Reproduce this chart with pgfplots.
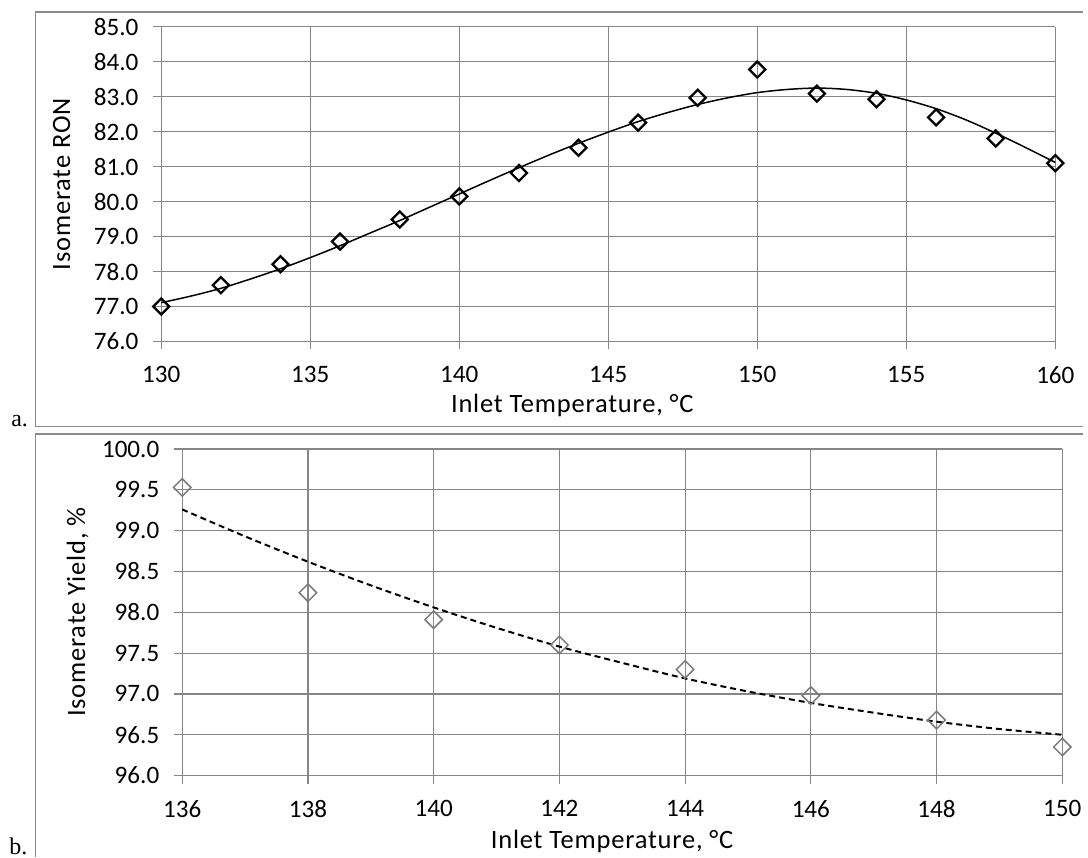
\documentclass[border=0pt]{standalone}
\usepackage{fontspec}
\setmainfont{Carlito}
\newfontfamily\seriffont{Liberation Serif}
\newfontfamily\labelfont[LetterSpace=3]{Carlito}
\usepackage{pgfplots}
\pgfplotsset{compat=1.18}
\definecolor{gridgray}{HTML}{868686}
\definecolor{boxgray}{HTML}{8A8A8A}
\definecolor{markgray}{HTML}{7A7A7A}
\pgfplotsset{excel/.style={
  scale only axis,
  axis line style={draw=none},
  grid=major,
  grid style={gridgray, line width=0.6pt},
  tick align=outside,
  tick pos=left,
  major tick length=4pt,
  tick style={gridgray, line width=0.6pt},
  ticklabel style={font=\fontsize{12.6}{15}\selectfont},
  label style={font=\labelfont\fontsize{13.3}{16}\selectfont},
  /pgf/number format/assume math mode=true,
  xticklabel style={yshift=-5pt},
  yticklabel style={xshift=-4pt},
  clip=false,
}}
\begin{document}
\begin{tikzpicture}
\fill[white] (0pt,0pt) rectangle (544pt,-430.5pt);
\draw[boxgray, line width=0.6pt] (544pt,-6pt) -- (18pt,-6pt) -- (18pt,-214pt) -- (544pt,-214pt);
\draw[boxgray, line width=0.6pt] (18pt,-430.5pt) -- (18pt,-218pt) -- (544pt,-218pt);
\node[font=\seriffont\fontsize{12}{14}\selectfont, anchor=base west, inner sep=0pt] at (5.5pt,-214pt) {a.};
\node[font=\seriffont\fontsize{12}{14}\selectfont, anchor=base west, inner sep=0pt] at (4.5pt,-429pt) {b.};

\begin{axis}[excel,
  at={(81pt,-171.5pt)}, anchor=south west,
  width=449pt, height=158pt,
  xmin=130, xmax=160, ymin=76, ymax=85,
  xtick={130,135,...,160},
  ytick={76,77,...,85},
  yticklabel={\pgfmathprintnumber[fixed,fixed zerofill,precision=1]{\tick}},
  xlabel={Inlet Temperature, °C},
  ylabel={Isomerate RON},
  xlabel style={at={(axis description cs:0.5958,-0.2025)}, anchor=east, inner sep=0pt},
  ylabel style={at={(axis description cs:-0.1114,0.5)}, anchor=center, inner sep=0pt},
]
\addplot[only marks, mark=square, mark size=2.85pt, mark options={rotate=45, draw=black, line width=1.15pt, fill=none}]
 coordinates {(130,77.00) (132,77.61) (134,78.21) (136,78.86) (138,79.49) (140,80.15) (142,80.82) (144,81.54) (146,82.26) (148,82.97) (150,83.78) (152,83.09) (154,82.93) (156,82.41) (158,81.81) (160,81.10)};
\addplot[black, line width=0.75pt, smooth, no marks]
 coordinates {(130,77.11) (131,77.30) (132,77.52) (133,77.79) (134,78.08) (135,78.40) (136,78.74) (137,79.10) (138,79.46) (139,79.84) (140,80.22) (141,80.60) (142,80.97) (143,81.33) (144,81.67) (145,81.99) (146,82.29) (147,82.55) (148,82.78) (149,82.97) (150,83.12) (151,83.21) (152,83.25) (153,83.21) (154,83.10) (155,82.91) (156,82.66) (157,82.34) (158,81.96) (159,81.55) (160,81.12)};
\end{axis}

\begin{axis}[excel,
  at={(91.5pt,-389.5pt)}, anchor=south west,
  width=442pt, height=164pt,
  xmin=136, xmax=150, ymin=96, ymax=100,
  xtick={136,138,...,150},
  ytick={96,96.5,...,100},
  yticklabel={\pgfmathprintnumber[fixed,fixed zerofill,precision=1]{\tick}},
  xlabel={Inlet Temperature, °C},
  ylabel={Isomerate Yield, \%},
  xlabel style={at={(axis description cs:0.6267,-0.201)}, anchor=east, inner sep=0pt},
  ylabel style={at={(axis description cs:-0.1188,0.5)}, anchor=center, inner sep=0pt},
]
\addplot[only marks, mark=square, mark size=3.1pt, mark options={rotate=45, draw=markgray, line width=0.75pt, fill=none}]
 coordinates {(136,99.53) (138,98.24) (140,97.91) (142,97.60) (144,97.30) (146,96.98) (148,96.68) (150,96.35)};
\addplot[black, line width=1pt, dash pattern=on 3pt off 2pt, smooth, no marks]
 coordinates {(136,99.26) (137,98.93) (138,98.62) (139,98.33) (140,98.06) (141,97.81) (142,97.58) (143,97.38) (144,97.19) (145,97.03) (146,96.89) (147,96.77) (148,96.66) (149,96.57) (150,96.50)};
\end{axis}
\end{tikzpicture}
\end{document}
